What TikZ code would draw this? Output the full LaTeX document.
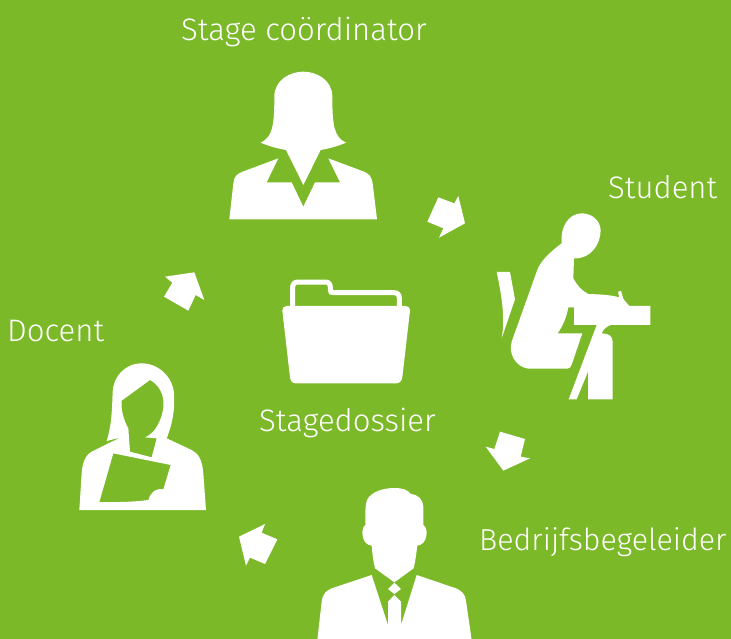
\documentclass[tikz,border=0pt]{standalone}
\usepackage{fontspec}
\setmainfont{Fira Sans Light}
\definecolor{bggreen}{RGB}{123,185,41}
\tikzset{
  lbl/.style={anchor=base west,inner sep=0pt,text=white,font=\fontsize{31.1}{34}\selectfont},
  lblsmall/.style={lbl,font=\fontsize{30.4}{34}\selectfont},
  shp/.style={fill=white,draw=none},
  zoomed/.style={x=0.33333pt,y=-0.33333pt}
}
\begin{document}
\begin{tikzpicture}[x=1pt,y=-1pt]
\useasboundingbox (0,0) rectangle (731,639);
\fill[bggreen] (0,0) rectangle (731,639);
% coordinator
\begin{scope}[xshift=210pt,yshift=-60pt,zoomed]
\fill[shp] (280,35) .. controls (240,35) and (193,60) .. (193,110) .. controls (193,150) and (192,180) .. (186,205) .. controls (181,225) and (170,240) .. (152,248) .. controls (175,258) and (200,265) .. (228,270) -- (280,375) -- (332,270) .. controls (360,265) and (385,258) .. (408,248) .. controls (390,240) and (379,225) .. (374,205) .. controls (368,180) and (367,150) .. (367,110) .. controls (367,60) and (320,35) .. (280,35) -- cycle;
\fill[shp] (205,295) -- (170,367) -- (245,367) -- (280,440) -- (315,367) -- (390,367) -- (355,295) -- (462,335) .. controls (478,342) and (485,350) .. (488,370) -- (501,478) -- (58,478) -- (70,370) .. controls (72,350) and (80,342) .. (98,335) -- cycle;
\end{scope}
% student
\begin{scope}[xshift=480pt,yshift=-200pt,zoomed]
\fill[shp] (282,322) -- (282,375) -- (350,375) -- (266,598) -- (290,598) -- (324,515) -- (324,598) -- (398,598) -- (398,425) .. controls (398,408) and (385,400) .. (365,400) .. controls (370,387) and (380,380) .. (392,375) -- (511,375) -- (511,318) -- (448,318) -- (430,297) -- (423,272) -- (414,276) -- (418,292) .. controls (390,284) and (355,283) .. (325,282) .. controls (305,272) and (290,255) .. (280,235) -- (282,175) .. controls (330,178) and (362,135) .. (362,90) .. controls (360,60) and (335,40) .. (305,40) .. controls (270,40) and (240,75) .. (245,130) .. controls (205,160) and (180,185) .. (170,215) -- (95,425) .. controls (85,460) and (105,500) .. (145,506) -- (262,506) .. controls (270,506) and (273,500) .. (275,494) -- (307,400) -- (233,400) .. controls (250,375) and (260,350) .. (265,322) -- cycle;
\fill[shp] (50,216) -- (90,216) -- (105,298) -- (65,415) .. controls (75,360) and (68,300) .. (50,216) -- cycle;
\end{scope}
% docent
\begin{scope}[xshift=70pt,yshift=-350pt,zoomed]
\fill[shp,even odd rule] (215,40) .. controls (165,40) and (130,80) .. (128,125) .. controls (126,180) and (125,225) .. (110,273) -- (150,263) -- (65,305) .. controls (45,317) and (37,340) .. (35,370) -- (28,480) -- (408,480) -- (400,370) .. controls (397,330) and (385,310) .. (365,300) -- (290,265) .. controls (310,215) and (315,170) .. (312,130) .. controls (308,80) and (265,40) .. (215,40) -- cycle
(240,90) -- (155,152) .. controls (152,180) and (163,215) .. (175,235) -- (180,305) -- (245,322) -- (260,265) -- (225,262) .. controls (260,250) and (285,190) .. (280,150) .. controls (276,122) and (262,102) .. (240,90) -- cycle
(130,310) -- (302,345) -- (280,418) .. controls (258,414) and (243,425) .. (235,450) .. controls (190,456) and (140,457) .. (88,456) -- cycle;
\end{scope}
% manager
\begin{scope}[xshift=300pt,yshift=-480pt,zoomed]
\fill[shp] (283,24) .. controls (250,24) and (215,35) .. (202,58) .. controls (196,72) and (196,85) .. (196,135) .. controls (187,142) and (186,155) .. (188,168) .. controls (191,185) and (200,195) .. (215,197) .. controls (217,220) and (220,245) .. (225,265) -- (283,307) -- (341,265) .. controls (346,245) and (349,220) .. (352,197) .. controls (367,195) and (376,185) .. (379,168) .. controls (381,155) and (380,142) .. (370,135) -- (370,80) .. controls (367,55) and (355,45) .. (333,42) .. controls (322,28) and (305,24) .. (283,24) -- cycle;
\fill[shp] (283,308) -- (303,327) -- (283,342) -- (264,327) -- cycle;
\fill[shp] (215,285) -- (264,435) -- (264,365) -- (283,345) -- (303,365) -- (303,435) -- (350,285) -- (468,325) .. controls (485,332) and (495,342) .. (498,362) -- (515,480) -- (52,480) -- (65,365) .. controls (68,342) and (78,332) .. (95,325) -- cycle;
\end{scope}
% folder
\begin{scope}[xshift=270pt,yshift=-270pt,zoomed]
\draw[white,line width=5pt] (68,112) -- (68,52) .. controls (68,42) and (74,36) .. (84,36) -- (166,36) .. controls (176,36) and (181,42) .. (181,52) -- (181,60) .. controls (181,66) and (184,68) .. (190,68) -- (372,68) .. controls (382,68) and (388,74) .. (388,84) -- (388,112);
\fill[shp] (37,122) .. controls (37,113) and (42,108) .. (50,108) -- (407,108) .. controls (416,108) and (421,114) .. (420,122) -- (397,322) .. controls (395,334) and (388,340) .. (378,340) -- (78,340) .. controls (68,340) and (61,334) .. (60,322) -- cycle;
\end{scope}
% arrows
\begin{scope}[xshift=420pt,yshift=-190pt,zoomed]
\fill[shp] (55,22) -- (103,40) -- (115,18) -- (135,100) -- (57,143) -- (70,115) -- (22,95) -- cycle;
\end{scope}
\begin{scope}[xshift=480pt,yshift=-425pt,zoomed]
\fill[shp] (60,20) -- (135,42) -- (122,95) -- (150,100) -- (70,137) -- (17,65) -- (43,72) -- cycle;
\end{scope}
\begin{scope}[xshift=230pt,yshift=-520pt,zoomed]
\fill[shp] (105,12) -- (95,38) -- (142,58) -- (105,132) -- (60,113) -- (48,137) -- (27,50) -- cycle;
\end{scope}
\begin{scope}[xshift=155pt,yshift=-265pt,zoomed]
\fill[shp] (118,22) -- (148,105) -- (122,90) -- (100,137) -- (27,95) -- (52,53) -- (30,35) -- cycle;
\end{scope}
% labels
\node[lbl] (coord) at (181,41) {Stage coördinator};
\node[lbl] (student) at (608,199) {Student};
\node[lbl] (docent) at (7,341) {Docent};
\node[lbl] (dossier) at (259,431) {Stagedossier};
\node[lblsmall] (begeleider) at (479,550) {Bedrijfsbegeleider};
\end{tikzpicture}
\end{document}
